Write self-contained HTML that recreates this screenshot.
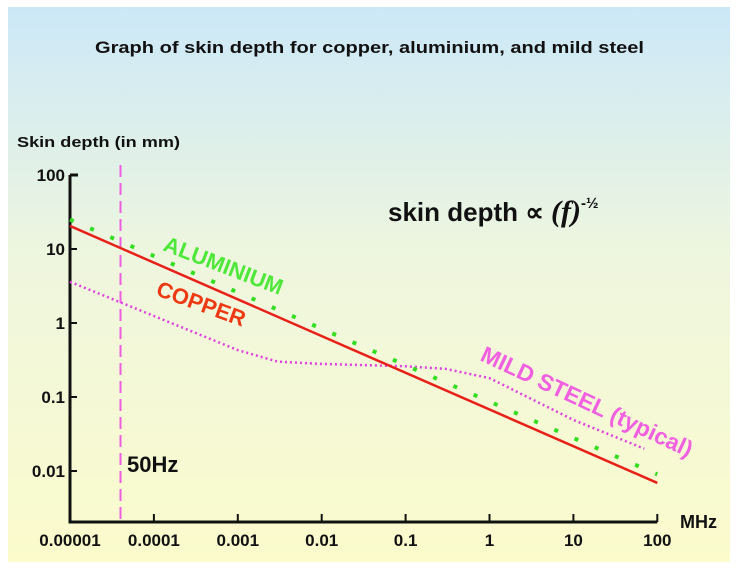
<!DOCTYPE html>
<html><head><meta charset="utf-8"><style>
html,body{margin:0;padding:0;background:#fff;}
svg{display:block;font-family:"Liberation Sans",sans-serif;}
</style></head><body>
<svg id="chart" width="739" height="568" viewBox="0 0 739 568">
<defs><linearGradient id="bg" x1="0" y1="0" x2="0" y2="1">
<stop offset="0" stop-color="#cce8f8"/><stop offset="0.45" stop-color="#eef6de"/><stop offset="1" stop-color="#fbfbcc"/></linearGradient></defs>
<rect x="8" y="7" width="722" height="555" fill="url(#bg)"/>
<text x="95" y="53" font-size="17" font-weight="bold" fill="#111" textLength="549" lengthAdjust="spacingAndGlyphs">Graph of skin depth for copper, aluminium, and mild steel</text>
<text x="17" y="147" font-size="15" font-weight="bold" fill="#111" textLength="163" lengthAdjust="spacingAndGlyphs">Skin depth (in mm)</text>
<text x="388" y="221" font-size="26" font-weight="bold" fill="#111">skin depth ∝ <tspan font-family="Liberation Serif,serif" font-style="italic" font-size="30">(f)</tspan><tspan font-size="15" dy="-13">-½</tspan></text>
<g id="axes"></g>
<g id="series"></g>
<text x="127" y="472" font-size="22" font-weight="bold" fill="#111">50Hz</text>
<text x="680" y="528" font-size="18" font-weight="bold" fill="#111">MHz</text>
<text transform="translate(162,250) rotate(21)" font-size="22" font-weight="bold" fill="#4fe83a">ALUMINIUM</text>
<text transform="translate(155,295) rotate(20)" font-size="22" font-weight="bold" fill="#ee3a14">COPPER</text>
<text transform="translate(479,360) rotate(25)" font-size="23" font-weight="bold" fill="#f060e0">MILD STEEL (typical)</text>
</svg>
<script>
const xTicks=[-5,-4,-3,-2,-1,0,1,2];
const xTickLabels=["0.00001","0.0001","0.001","0.01","0.1","1","10","100"];
const yTicks=[2,1,0,-1,-2];
const yTickLabels=["100","10","1","0.1","0.01"];
const freqs=[0.00001,0.00004,0.001,0.003,0.01,0.1,0.3,1,10,70];
const copperStart=[0.00001,20.5];
const copperEnd=[100,0.0069];
const aluStart=[0.00001,25];
const aluEnd=[100,0.009];
const steel=[3.6,1.9,0.43,0.3,0.28,0.26,0.24,0.18,0.049,0.02];
const fiftyHz=0.00004;
const NS="http://www.w3.org/2000/svg";
const x=f=>70+(Math.log10(f)+5)*83.9;
const y=v=>323-Math.log10(v)*74;
const X0=70,Y0=522;
function mk(t,a,p){const e=document.createElementNS(NS,t);for(const k in a)e.setAttribute(k,a[k]);p.appendChild(e);return e;}
const ax=document.getElementById('axes'),se=document.getElementById('series');
let e=mk('path',{d:`M${X0} ${y(100)}V${Y0}H${x(100)}`,fill:'none',stroke:'#111','stroke-width':3},ax);


e=mk('line',{x1:X0,x2:X0+8,y1:y(100),y2:y(100),stroke:'#111','stroke-width':3},ax);


xTicks.forEach((t,i)=>{const xx=x(Math.pow(10,t));
 let l=mk('line',{x1:xx,x2:xx,y1:Y0,y2:Y0-8,stroke:'#111','stroke-width':2},ax);
 
 
 let tx=mk('text',{x:xx,y:546,'text-anchor':'middle','font-size':17,'font-weight':'bold',fill:'#111'},ax);tx.textContent=xTickLabels[i];
 
 });
yTicks.forEach((t,i)=>{const yy=y(Math.pow(10,t));
 let l=mk('line',{x1:X0,x2:X0+7,y1:yy,y2:yy,stroke:'#111','stroke-width':2},ax);
 
 
 let tx=mk('text',{x:65,y:yy+6,'text-anchor':'end','font-size':17,'font-weight':'bold',fill:'#111'},ax);tx.textContent=yTickLabels[i];
 
 });
e=mk('line',{x1:x(fiftyHz),x2:x(fiftyHz),y1:165,y2:522,stroke:'#ee5fe0','stroke-width':2,'stroke-dasharray':'12 6'},se);


e=mk('polyline',{points:steel.map((v,i)=>x(freqs[i])+','+y(v)).join(' '),fill:'none',stroke:'#e040e0','stroke-width':2.5,'stroke-dasharray':'2 3'},se);


e=mk('line',{x1:x(aluStart[0]),y1:y(aluStart[1]),x2:x(aluEnd[0]),y2:y(aluEnd[1]),stroke:'#33dd22','stroke-width':4,'stroke-dasharray':'4 18'},se);


e=mk('line',{x1:x(copperStart[0]),y1:y(copperStart[1]),x2:x(copperEnd[0]),y2:y(copperEnd[1]),stroke:'#e8201a','stroke-width':2.5},se);


</script>
</body></html>
